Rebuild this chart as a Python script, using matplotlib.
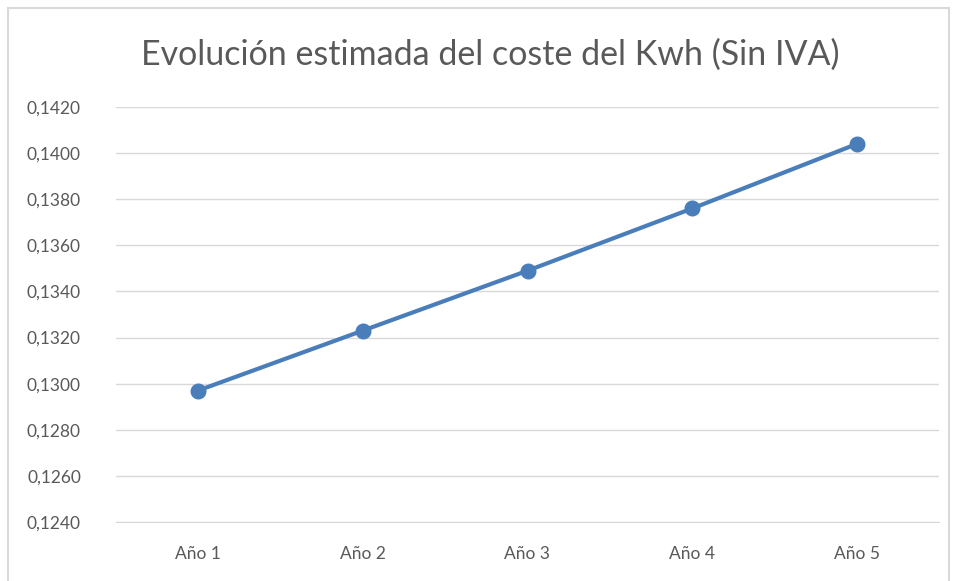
import matplotlib.pyplot as plt
from matplotlib.patches import Rectangle
from matplotlib.ticker import FuncFormatter

years = ["Año 1", "Año 2", "Año 3", "Año 4", "Año 5"]
coste_kwh = [0.1297, 0.1323, 0.1349, 0.1376, 0.1404]
y_ticks = [0.1240, 0.1260, 0.1280, 0.1300, 0.1320, 0.1340, 0.1360, 0.1380, 0.1400, 0.1420]

plt.rcParams['font.family'] = ['Lato', 'DejaVu Sans']

fig = plt.figure(figsize=(9.57, 5.81), dpi=100)
W, H = 957, 581

# chart frame
fig.patches.append(Rectangle((8 / W, -0.05), (949 - 8) / W, (H - 8) / H + 0.05,
                             transform=fig.transFigure, fill=False,
                             edgecolor='#d9d9d9', linewidth=1.5))

ax = fig.add_axes([115.6 / W, 59 / H, (939.4 - 115.6) / W, (522 - 107) / H])
ax.plot(range(len(years)), coste_kwh, color='#4a7ebb', linewidth=3,
        marker='o', markersize=10.5, zorder=3)

ax.set_xlim(-0.5, len(years) - 0.5)
ax.set_ylim(y_ticks[0], y_ticks[-1])
ax.set_yticks(y_ticks)
ax.yaxis.set_major_formatter(FuncFormatter(lambda v, p: f"{v:.4f}".replace('.', ',')))
ax.set_xticks(range(len(years)))
ax.set_xticklabels(years)

ax.grid(axis='y', color='#d9d9d9', linewidth=1)
ax.set_axisbelow(True)
for s in ['top', 'right', 'left']:
    ax.spines[s].set_visible(False)
ax.spines['bottom'].set_color('#d9d9d9')
ax.tick_params(axis='both', length=0, labelsize=12.5, colors='#595959')
ax.tick_params(axis='y', pad=25)
ax.tick_params(axis='x', pad=17)

fig.text(490 / W, 1 - 55 / H, "Evolución estimada del coste del Kwh (Sin IVA)",
         ha='center', va='center', fontsize=24.5, color='#595959')

fig.savefig("out.png", dpi=100)
